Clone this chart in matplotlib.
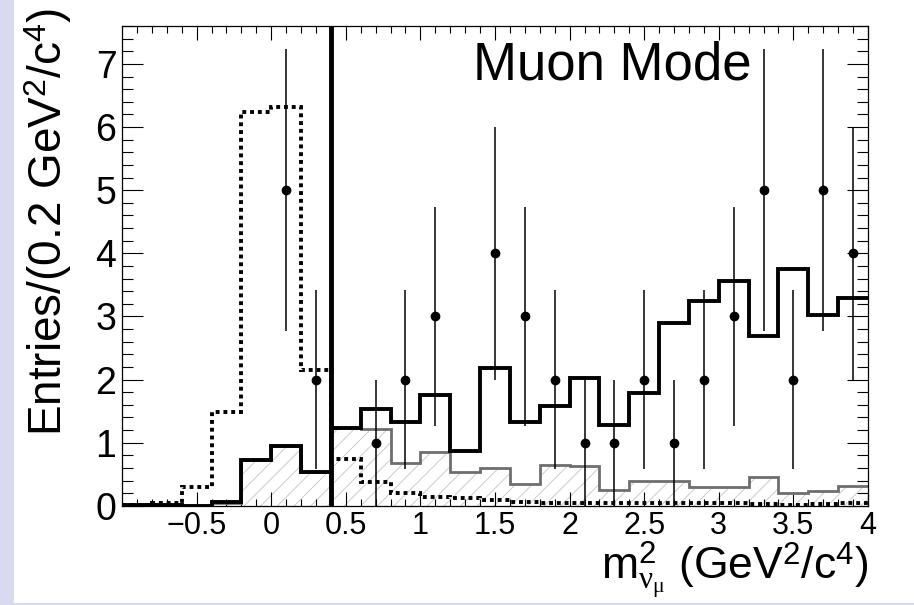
import numpy as np
import matplotlib
matplotlib.use("Agg")
import matplotlib.pyplot as plt
from matplotlib.patches import Rectangle

plt.rcParams['font.family'] = ['Liberation Sans', 'DejaVu Sans']
plt.rcParams['mathtext.fontset'] = 'custom'
plt.rcParams['mathtext.rm'] = 'Liberation Sans'
plt.rcParams['mathtext.it'] = 'Liberation Serif'
plt.rcParams['mathtext.bf'] = 'Liberation Sans:bold'
plt.rcParams['hatch.linewidth'] = 0.6

# 0.2 GeV^2/c^4 bins from -1 to 4
bin_edges = np.round(np.arange(-1.0, 4.0001, 0.2), 2)

# total expectation (thick solid)
total = [0.01, 0.01, 0.0, 0.06, 0.73, 0.95, 0.53, 1.24, 1.53, 1.33,
         1.75, 0.87, 2.19, 1.32, 1.58, 2.02, 1.28, 1.78, 2.90, 3.25,
         3.56, 2.69, 3.75, 3.02, 3.29]
# background (gray, hatched)
background = [0.0, 0.0, 0.0, 0.05, 0.73, 0.95, 0.53, 1.24, 1.22, 0.67,
              0.85, 0.53, 0.60, 0.35, 0.65, 0.63, 0.25, 0.39, 0.39, 0.30,
              0.29, 0.46, 0.21, 0.24, 0.31]
# other mode shape (dotted)
other = [0.02, 0.04, 0.30, 1.49, 6.24, 6.31, 2.15, 0.74, 0.37, 0.20,
         0.14, 0.13, 0.09, 0.06, 0.05, 0.05, 0.04, 0.04, 0.04, 0.04,
         0.04, 0.03, 0.02, 0.03, 0.04]

# data points (bin centres, counts)
data_x = [0.1, 0.3, 0.7, 0.9, 1.1, 1.5, 1.7, 1.9, 2.1, 2.3, 2.5, 2.7,
          2.9, 3.1, 3.3, 3.5, 3.7, 3.9]
data_y = [5, 2, 1, 2, 3, 4, 3, 2, 1, 1, 2, 1, 2, 3, 5, 2, 5, 4]

cut_x = 0.4

x_ticks = [-0.5, 0, 0.5, 1, 1.5, 2, 2.5, 3, 3.5, 4]
x_tick_labels = ['\u22120.5', '0', '0.5', '1', '1.5', '2', '2.5', '3', '3.5', '4']

fig = plt.figure(figsize=(9.14, 6.05), dpi=100, facecolor='#d9d9f0')
fig.patches.append(Rectangle((14 / 914, 0.003), 1, 1, transform=fig.transFigure,
                             facecolor='white', edgecolor='none', zorder=-10))
ax = fig.add_axes([122 / 914, 0.164, (868 - 122) / 914, 0.957 - 0.164])
ax.set_facecolor('white')

ax.stairs(background, bin_edges, fill=True, facecolor='none', edgecolor='#c4c4c4',
          hatch='//', linewidth=0, zorder=1)
ax.stairs(background, bin_edges, baseline=None, color='#6e6e6e', linewidth=2.0, zorder=2)
ax.stairs(other, bin_edges, baseline=None, color='black', linewidth=2.8,
          linestyle=(0, (1.0, 1.0)), zorder=3)
ax.stairs(total, bin_edges, baseline=None, color='black', linewidth=2.8, zorder=4)

err = np.sqrt(data_y)
ax.errorbar(data_x, data_y, yerr=err, fmt='o', color='black', markersize=6,
            elinewidth=1.1, capsize=0, zorder=5)

ax.axvline(cut_x, color='black', linewidth=3.5, zorder=6)

ax.set_xlim(-1, 4)
ax.set_ylim(0, 7.6)
ax.set_xticks(x_ticks)
ax.set_xticklabels(x_tick_labels)
ax.set_xticks(np.arange(-0.9, 4.0, 0.1), minor=True)
ax.set_yticks(range(8))
ax.set_yticks(np.arange(0, 7.61, 0.2), minor=True)

ax.tick_params(axis='x', which='major', direction='in', length=10, width=0.8,
               top=True, labelsize=22, pad=4)
ax.tick_params(axis='x', which='minor', direction='in', length=5, width=0.8, top=True)
ax.tick_params(axis='y', which='major', direction='in', length=15, width=0.8,
               right=True, labelsize=27, pad=4)
ax.tick_params(axis='y', which='minor', direction='in', length=8, width=0.8, right=True)
for s in ax.spines.values():
    s.set_linewidth(0.9)

ax.text(1.0, -0.073, r'$\mathrm{m}^{2}_{\nu_{\mu}}$ (GeV$^{2}$/c$^{4}$)', transform=ax.transAxes,
        ha='right', va='top', fontsize=32)
fig.text(48 / 914, 1 - 222 / 605, r'Entries/(0.2 GeV$^{2}$/c$^{4}$)', rotation=90,
         ha='center', va='center', fontsize=33)
fig.text(473 / 914, 1 - 66 / 605, 'Muon Mode', ha='left', va='center', fontsize=38)

fig.savefig('out.png', dpi=100, facecolor=fig.get_facecolor())
